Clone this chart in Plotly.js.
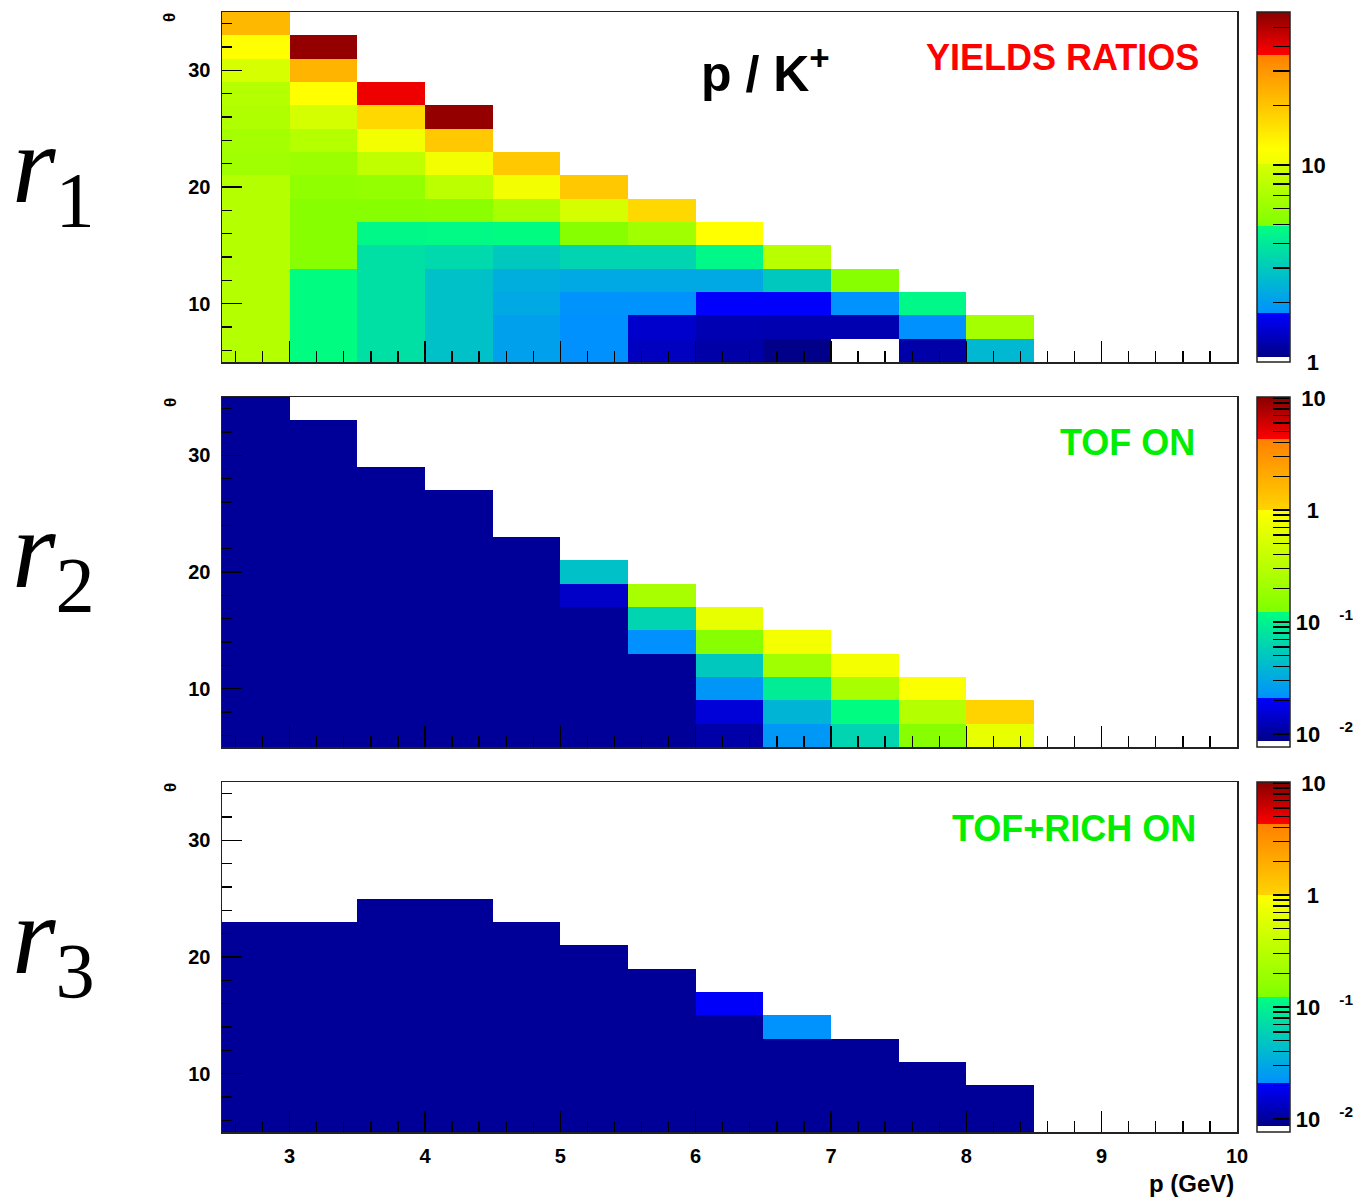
<!DOCTYPE html>
<html><head><meta charset="utf-8">
<script src="https://cdn.plot.ly/plotly-3.0.1.min.js"></script>
<style>html,body{margin:0;padding:0;background:#fff}#chart{width:1360px;height:1199px}</style>
</head><body><div id="chart"></div>
<script>
// ---- bins ----
const pEdges = [2.5,3,3.5,4,4.5,5,5.5,6,6.5,7,7.5,8,8.5,9,9.5,10];          // p (GeV) bin edges
const thetaEdges = [5,7,9,11,13,15,17,19,21,23,25,27,29,31,33,35];          // theta bin edges
const _ = null;

// ---- r1 : p / K+ yields ratio (rows: theta 5-7 first ... 33-35 last; columns: p bins) ----
const yieldsRatio = [
 [7.55,4.83,3.69,2.75,2.05,1.78,1.35,1.22,1.07,_,1.22,2.55,_,_,_],
 [7.55,4.83,3.69,2.75,2.05,1.78,1.42,1.28,1.26,1.26,1.78,6.6,_,_,_],
 [7.55,4.83,3.69,2.75,2.2,1.82,1.8,1.74,1.74,1.8,4.6,_,_,_,_],
 [7.55,4.83,3.69,2.75,2.33,2.2,2.2,2.2,2.96,5.25,_,_,_,_,_],
 [7.55,5.25,3.69,3.43,2.96,3.3,3.3,4.6,7.8,_,_,_,_,_,_],
 [7.55,5.25,4.6,4.7,4.83,5.25,6.4,12.1,_,_,_,_,_,_,_],
 [7.55,5.25,5.25,5.4,6.8,9.9,17.0,_,_,_,_,_,_,_,_],
 [7.55,5.6,5.8,8.05,10.5,19.5,_,_,_,_,_,_,_,_,_],
 [6.4,6.2,8.3,10.5,19.5,_,_,_,_,_,_,_,_,_,_],
 [6.6,7.55,10.5,19.5,_,_,_,_,_,_,_,_,_,_,_],
 [7.3,9.8,17.0,56.9,_,_,_,_,_,_,_,_,_,_,_],
 [7.55,12.1,38.9,_,_,_,_,_,_,_,_,_,_,_,_],
 [10.0,23.2,_,_,_,_,_,_,_,_,_,_,_,_,_],
 [12.1,56.9,_,_,_,_,_,_,_,_,_,_,_,_,_],
 [22.4,_,_,_,_,_,_,_,_,_,_,_,_,_,_]
];

// ---- r2 : TOF ON ----
const tofOn = [
 [0.0098,0.0098,0.0098,0.0098,0.0098,0.0098,0.0098,0.011,0.0237,0.062,0.141,0.68,_,_,_],
 [0.0098,0.0098,0.0098,0.0098,0.0098,0.0098,0.0098,0.0156,0.037,0.12,0.29,1.02,_,_,_],
 [0.0098,0.0098,0.0098,0.0098,0.0098,0.0098,0.0098,0.0229,0.092,0.239,0.95,_,_,_,_],
 [0.0098,0.0098,0.0098,0.0098,0.0098,0.0098,0.0098,0.051,0.21,0.83,_,_,_,_,_],
 [0.0098,0.0098,0.0098,0.0098,0.0098,0.0098,0.021,0.141,0.83,_,_,_,_,_,_],
 [0.0098,0.0098,0.0098,0.0098,0.0098,0.0098,0.062,0.68,_,_,_,_,_,_,_],
 [0.0098,0.0098,0.0098,0.0098,0.0098,0.0139,0.239,_,_,_,_,_,_,_,_],
 [0.0098,0.0098,0.0098,0.0098,0.0098,0.045,_,_,_,_,_,_,_,_,_],
 [0.0098,0.0098,0.0098,0.0098,0.0098,_,_,_,_,_,_,_,_,_,_],
 [0.0098,0.0098,0.0098,0.0098,_,_,_,_,_,_,_,_,_,_,_],
 [0.0098,0.0098,0.0098,0.0098,_,_,_,_,_,_,_,_,_,_,_],
 [0.0098,0.0098,0.0098,_,_,_,_,_,_,_,_,_,_,_,_],
 [0.0098,0.0098,_,_,_,_,_,_,_,_,_,_,_,_,_],
 [0.0098,0.0098,_,_,_,_,_,_,_,_,_,_,_,_,_],
 [0.0098,_,_,_,_,_,_,_,_,_,_,_,_,_,_]
];

// ---- r3 : TOF+RICH ON ----
const tofRichOn = [
 [0.0098,0.0098,0.0098,0.0098,0.0098,0.0098,0.0098,0.0098,0.0098,0.0098,0.0098,0.0098,_,_,_],
 [0.0098,0.0098,0.0098,0.0098,0.0098,0.0098,0.0098,0.0098,0.0098,0.0098,0.0098,0.0098,_,_,_],
 [0.0098,0.0098,0.0098,0.0098,0.0098,0.0098,0.0098,0.0098,0.0098,0.0098,0.0098,_,_,_,_],
 [0.0098,0.0098,0.0098,0.0098,0.0098,0.0098,0.0098,0.0098,0.0098,0.0098,_,_,_,_,_],
 [0.0098,0.0098,0.0098,0.0098,0.0098,0.0098,0.0098,0.0098,0.0215,_,_,_,_,_,_],
 [0.0098,0.0098,0.0098,0.0098,0.0098,0.0098,0.0098,0.0200,_,_,_,_,_,_,_],
 [0.0098,0.0098,0.0098,0.0098,0.0098,0.0098,0.0098,_,_,_,_,_,_,_,_],
 [0.0098,0.0098,0.0098,0.0098,0.0098,0.0098,_,_,_,_,_,_,_,_,_],
 [0.0098,0.0098,0.0098,0.0098,0.0098,_,_,_,_,_,_,_,_,_,_],
 [_,_,0.0098,0.0098,_,_,_,_,_,_,_,_,_,_,_],
 [_,_,_,_,_,_,_,_,_,_,_,_,_,_,_],
 [_,_,_,_,_,_,_,_,_,_,_,_,_,_,_],
 [_,_,_,_,_,_,_,_,_,_,_,_,_,_,_],
 [_,_,_,_,_,_,_,_,_,_,_,_,_,_,_],
 [_,_,_,_,_,_,_,_,_,_,_,_,_,_,_]
];

// ---- colour-bar ticks ----
const cb1Major = [1, 10];
const cb1MajorText = ['\u2005\u20051', '\u200510'];
const cb1Minor = [2,3,4,5,6,7,8,9,20,30,40,50];
const cb2Major = [0.01, 0.1, 1, 10];
const cb2MajorText = ['10<sup>\u2003\u2005-2</sup>', '10<sup>\u2003\u2005-1</sup>', '\u2005\u20051', '\u200510'];
const cb2Minor = [0.02,0.03,0.04,0.05,0.06,0.07,0.08,0.09,0.2,0.3,0.4,0.5,0.6,0.7,0.8,0.9,2,3,4,5,6,7,8,9];

// ---- styles / geometry ----
const W = 1360, H = 1199;
const px = x => x / W, py = y => 1 - y / H;
const FONT = 'Liberation Sans, Arial, Helvetica, sans-serif';
const panels = [
  {data: yieldsRatio, top: 12, bottom: 362, zmin: 0, zmax: 1.777, major: cb1Major, majorText: cb1MajorText, minor: cb1Minor},
  {data: tofOn, top: 397, bottom: 747, zmin: -2.116, zmax: 1.009, major: cb2Major, majorText: cb2MajorText, minor: cb2Minor},
  {data: tofRichOn, top: 782, bottom: 1132, zmin: -2.116, zmax: 1.009, major: cb2Major, majorText: cb2MajorText, minor: cb2Minor}
];
const cs1 = [[0,'#ffffff'],[0.015,'#ffffff'],[0.0151,'#000088'],[0.139,'#0000ff'],[0.1391,'#0090ff'],
  [0.389,'#00ff80'],[0.3891,'#80ff00'],[0.566,'#d8ff00'],[0.5661,'#f0ff00'],[0.61,'#ffff00'],
  [0.878,'#ff8000'],[0.8781,'#ff0000'],[1,'#880000']];
const cs2 = [[0,'#ffffff'],[0.017,'#ffffff'],[0.0171,'#000088'],[0.139,'#0000ff'],[0.1391,'#0090ff'],
  [0.387,'#00ff80'],[0.3871,'#80ff00'],[0.677,'#ffff00'],[0.6771,'#ffd400'],
  [0.879,'#ff8000'],[0.8791,'#ff0000'],[1,'#880000']];

const traces = [];
const layout = {
  width: W, height: H, margin: {l:0, r:0, t:0, b:0, autoexpand: false},
  paper_bgcolor: '#fff', plot_bgcolor: '#fff', showlegend: false,
  font: {family: FONT, color: '#000'},
  annotations: []
};
const tickFont = {family: FONT, size: 20, weight: 'bold', color: '#000'};
const cbFont = {family: FONT, size: 22, weight: 'bold', color: '#000'};

panels.forEach((p, i) => {
  const n = i + 1;
  const sfx = n === 1 ? '' : String(n);
  const logZ = p.data.map(row => row.map(v => v == null ? null : Math.log10(v)));
  traces.push({
    type: 'heatmap', x: pEdges, y: thetaEdges, z: logZ,
    xaxis: 'x' + sfx, yaxis: 'y' + sfx,
    zmin: p.zmin, zmax: p.zmax, colorscale: i === 0 ? cs1 : cs2, zsmooth: false,
    hoverinfo: 'skip',
    colorbar: {
      x: px(1257), xanchor: 'left', y: py((p.top + p.bottom) / 2), yanchor: 'middle',
      len: (p.bottom - p.top) / H, lenmode: 'fraction', thickness: 33, thicknessmode: 'pixels',
      xpad: 0, ypad: 0, outlinewidth: 1.5, outlinecolor: '#222', borderwidth: 0,
      ticks: 'inside', ticklen: 17, tickwidth: 1.3, tickcolor: '#000',
      tickmode: 'array',
      tickvals: p.major.concat(p.minor).map(v => Math.log10(v)),
      ticktext: p.majorText.concat(p.minor.map(() => '')),
      tickfont: cbFont
    }
  });
  layout['xaxis' + sfx] = {
    domain: [px(222), px(1237)], range: [2.5, 10], anchor: 'y' + sfx,
    ticks: 'inside', ticklen: 21, tickwidth: 1.3, tickcolor: '#000', dtick: 1, tick0: 0,
    minor: {ticks: 'inside', ticklen: 11, dtick: 0.2, tick0: 0, tickwidth: 1.3, tickcolor: '#000', showgrid: false},
    showgrid: false, zeroline: false, showline: true, linecolor: '#222', linewidth: 1.5, mirror: true,
    showticklabels: n === 3, tickfont: tickFont, ticklabelstandoff: 5, fixedrange: true
  };
  layout['yaxis' + sfx] = {
    domain: [py(p.bottom), py(p.top)], range: [5, 35], anchor: 'x' + sfx,
    ticks: 'inside', ticklen: 20, tickwidth: 1.3, tickcolor: '#000', dtick: 10, tick0: 0,
    minor: {ticks: 'inside', ticklen: 10, dtick: 2, tick0: 0, tickwidth: 1.3, tickcolor: '#000', showgrid: false},
    showgrid: false, zeroline: false, showline: true, linecolor: '#222', linewidth: 1.5, mirror: true,
    tickfont: tickFont, ticklabelstandoff: 6, fixedrange: true
  };
  // theta axis title
  layout.annotations.push({text: 'θ', xref: 'paper', yref: 'paper', x: px(170), y: py(p.top + 6),
    xanchor: 'center', yanchor: 'middle', textangle: -90, showarrow: false,
    font: {family: FONT, size: 17, weight: 'bold', color: '#000'}});
  // r labels
  layout.annotations.push({text: '<i>r</i><sub>' + n + '</sub>', xref: 'paper', yref: 'paper',
    x: px(10), y: py(p.top + 161), xanchor: 'left', yanchor: 'middle', showarrow: false,
    font: {family: 'Liberation Serif, DejaVu Serif, serif', size: 112, color: '#000'}});
});

layout.annotations.push(
  {text: 'p / K<sup>+</sup>', xref: 'paper', yref: 'paper', x: px(765), y: py(70), xanchor: 'center', yanchor: 'middle',
   showarrow: false, font: {family: FONT, size: 50, weight: 'bold', color: '#000'}},
  {text: 'YIELDS RATIOS', xref: 'paper', yref: 'paper', x: px(1201), y: py(57), xanchor: 'right', yanchor: 'middle',
   showarrow: false, font: {family: FONT, size: 36, weight: 'bold', color: '#ff0000'}},
  {text: 'TOF ON', xref: 'paper', yref: 'paper', x: px(1197), y: py(443), xanchor: 'right', yanchor: 'middle',
   showarrow: false, font: {family: FONT, size: 36, weight: 'bold', color: '#00ee00'}},
  {text: 'TOF+RICH ON', xref: 'paper', yref: 'paper', x: px(1198), y: py(828), xanchor: 'right', yanchor: 'middle',
   showarrow: false, font: {family: FONT, size: 36, weight: 'bold', color: '#00ee00'}},
  {text: 'p (GeV)', xref: 'paper', yref: 'paper', x: px(1236), y: py(1183), xanchor: 'right', yanchor: 'middle',
   showarrow: false, font: {family: FONT, size: 24, weight: 'bold', color: '#000'}}
);

Plotly.newPlot('chart', traces, layout, {staticPlot: true, displayModeBar: false});
</script>
</body></html>
